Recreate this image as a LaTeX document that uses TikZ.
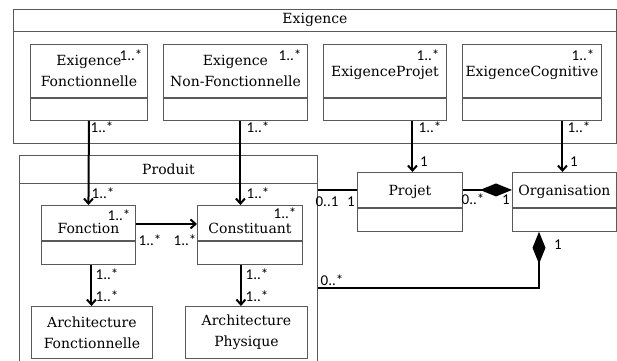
\documentclass[tikz,border=0pt]{standalone}
\usepackage{fontspec}
\setmainfont{DejaVu Serif}
\newfontfamily\multfont{Carlito}
\usetikzlibrary{arrows.meta,positioning}
\definecolor{boxgray}{RGB}{90,90,90}

\begin{document}
\begin{tikzpicture}[x=1pt, y=-1pt,
        pkg/.style={rectangle, draw=boxgray, line width=0.9pt, inner sep=0pt, anchor=north west},
        pkgtitle/.style={inner sep=0pt, font=\fontsize{14}{16}\selectfont},
        head/.style={rectangle, draw=boxgray, line width=0.9pt, inner sep=0pt, anchor=north west, align=center, font=\fontsize{14}{21}\selectfont},
        body/.style={rectangle, draw=boxgray, line width=0.9pt, inner sep=0pt},
        mult/.style={inner sep=0pt, font=\multfont\fontsize{15}{16}\selectfont},
        link/.style={line width=2pt, -{Straight Barb[length=5pt, width=9pt]}},
        assoc/.style={line width=2pt},
        compo/.style={line width=2pt, {Diamond[length=32pt, width=13pt]}-}
    ]
        \useasboundingbox (0,0) rectangle (617,360);

        % packages
        \node[pkg, minimum width=603pt, minimum height=134pt] (exigence) at (13,9) {};
        \draw[boxgray, line width=0.9pt] ([yshift=-22pt]exigence.north west) -- ([yshift=-22pt]exigence.north east);
        \node[pkgtitle] (exigence-title) at ([yshift=-11pt]exigence.north) {Exigence};

        \node[pkg, minimum width=298pt, minimum height=210pt] (produit) at (19,155) {};
        \draw[boxgray, line width=0.9pt] ([yshift=-28pt]produit.north west) -- ([yshift=-28pt]produit.north east);
        \node[pkgtitle] (produit-title) at ([yshift=-14pt]produit.north) {Produit};

        % exigences
        \node[head, minimum width=117pt, minimum height=53pt] (exfonc) at (30,44) {Exigence\\Fonctionnelle};
        \node[body, below=0pt of exfonc, minimum width=117pt, minimum height=22pt] (exfonc-b) {};
        \node[head, minimum width=144pt, minimum height=53pt] (exnonf) at (163,44) {Exigence\\Non-Fonctionnelle};
        \node[body, below=0pt of exnonf, minimum width=144pt, minimum height=22pt] (exnonf-b) {};
        \node[head, minimum width=123pt, minimum height=53pt, text height=15pt] (exproj) at (323,44) {ExigenceProjet};
        \node[body, below=0pt of exproj, minimum width=123pt, minimum height=22pt] (exproj-b) {};
        \node[head, minimum width=139pt, minimum height=53pt, text height=15pt] (excog) at (462,44) {ExigenceCognitive};
        \node[body, below=0pt of excog, minimum width=139pt, minimum height=22pt] (excog-b) {};

        % produit
        \node[head, minimum width=94pt, minimum height=35pt, text height=22pt] (fonction) at (41,205) {Fonction};
        \node[body, below=0pt of fonction, minimum width=94pt, minimum height=23pt] (fonction-b) {};
        \node[head, minimum width=105pt, minimum height=35pt, text height=22pt] (constituant) at (197,205) {Constituant};
        \node[body, below=0pt of constituant, minimum width=105pt, minimum height=23pt] (constituant-b) {};
        \node[head, minimum width=121pt, minimum height=52pt] (archfonc) at (31,306) {Architecture\\Fonctionnelle};
        \node[head, minimum width=122pt, minimum height=52pt] (archphys) at (185,306) {Architecture\\Physique};

        % projet / organisation
        \node[head, minimum width=105pt, minimum height=35pt, text height=14pt] (projet) at (357,172) {Projet};
        \node[body, below=0pt of projet, minimum width=105pt, minimum height=23pt] (projet-b) {};
        \node[head, minimum width=104pt, minimum height=35pt, text height=14pt] (organisation) at (512,172) {Organisation};
        \node[body, below=0pt of organisation, minimum width=104pt, minimum height=23pt] (organisation-b) {};

        % links
        \draw[link] (exfonc-b.south) -- (fonction.north);
        \draw[link] ([xshift=5pt]exnonf-b.south) -- ([xshift=5pt]exnonf-b.south |- constituant.north);
        \draw[link] ([yshift=-1pt]fonction.east) -- ([yshift=-1pt]constituant.west);
        \draw[link] ([xshift=3pt]fonction-b.south) -- ([xshift=3pt]fonction-b.south |- archfonc.north);
        \draw[link] ([xshift=-9pt]constituant-b.south) -- ([xshift=-9pt]constituant-b.south |- archphys.north);
        \draw[link] ([xshift=2.5pt]projet.north |- exproj-b.south) -- ([xshift=2.5pt]projet.north);
        \draw[link] ([xshift=-2pt]organisation.north |- excog-b.south) -- ([xshift=-2pt]organisation.north);
        \draw[assoc] (produit.east |- projet.west) -- (projet.west);
        \draw[assoc, -{Diamond[length=32pt, width=13pt]}] (projet.east) -- (organisation.west);
        \coordinate (corner) at (539,288);
        \draw[compo] (corner |- organisation-b.south) -- (corner) -- (corner -| produit.east);

        % multiplicities
        \node[mult] (m-exfonc) at (131,55) {1..*};
        \node[mult] (m-exnonf) at (290,55) {1..*};
        \node[mult] (m-exproj) at (428,55) {1..*};
        \node[mult] (m-excog) at (583,55) {1..*};
        \node[mult] (m-exfonc-src) at (102,127) {1..*};
        \node[mult] (m-exnonf-src) at (258,127) {1..*};
        \node[mult] (m-exproj-src) at (430,127) {1..*};
        \node[mult] (m-excog-src) at (579,127) {1..*};
        \node[mult] (m-projet-tgt) at (424,162) {1};
        \node[mult] (m-orga-tgt) at (574,162) {1};
        \node[mult] (m-fonction-tgt) at (103,193) {1..*};
        \node[mult] (m-constituant-tgt) at (258,193) {1..*};
        \node[mult] (m-fonction) at (119,215) {1..*};
        \node[mult] (m-constituant) at (285,213) {1..*};
        \node[mult] (m-fc-src) at (150,240) {1..*};
        \node[mult] (m-fc-tgt) at (185,240) {1..*};
        \node[mult] (m-fa-src) at (107,274) {1..*};
        \node[mult] (m-fa-tgt) at (107,296) {1..*};
        \node[mult] (m-ca-src) at (257,274) {1..*};
        \node[mult] (m-ca-tgt) at (257,296) {1..*};
        \node[mult] (m-produit-projet) at (327,202) {0..1};
        \node[mult] (m-projet-produit) at (351,202) {1};
        \node[mult] (m-projet-orga) at (473,199) {0..*};
        \node[mult] (m-orga-projet) at (506,200) {1};
        \node[mult] (m-orga-produit) at (558,245) {1};
        \node[mult] (m-produit-orga) at (332,280) {0..*};
    \end{tikzpicture}
\end{document}
